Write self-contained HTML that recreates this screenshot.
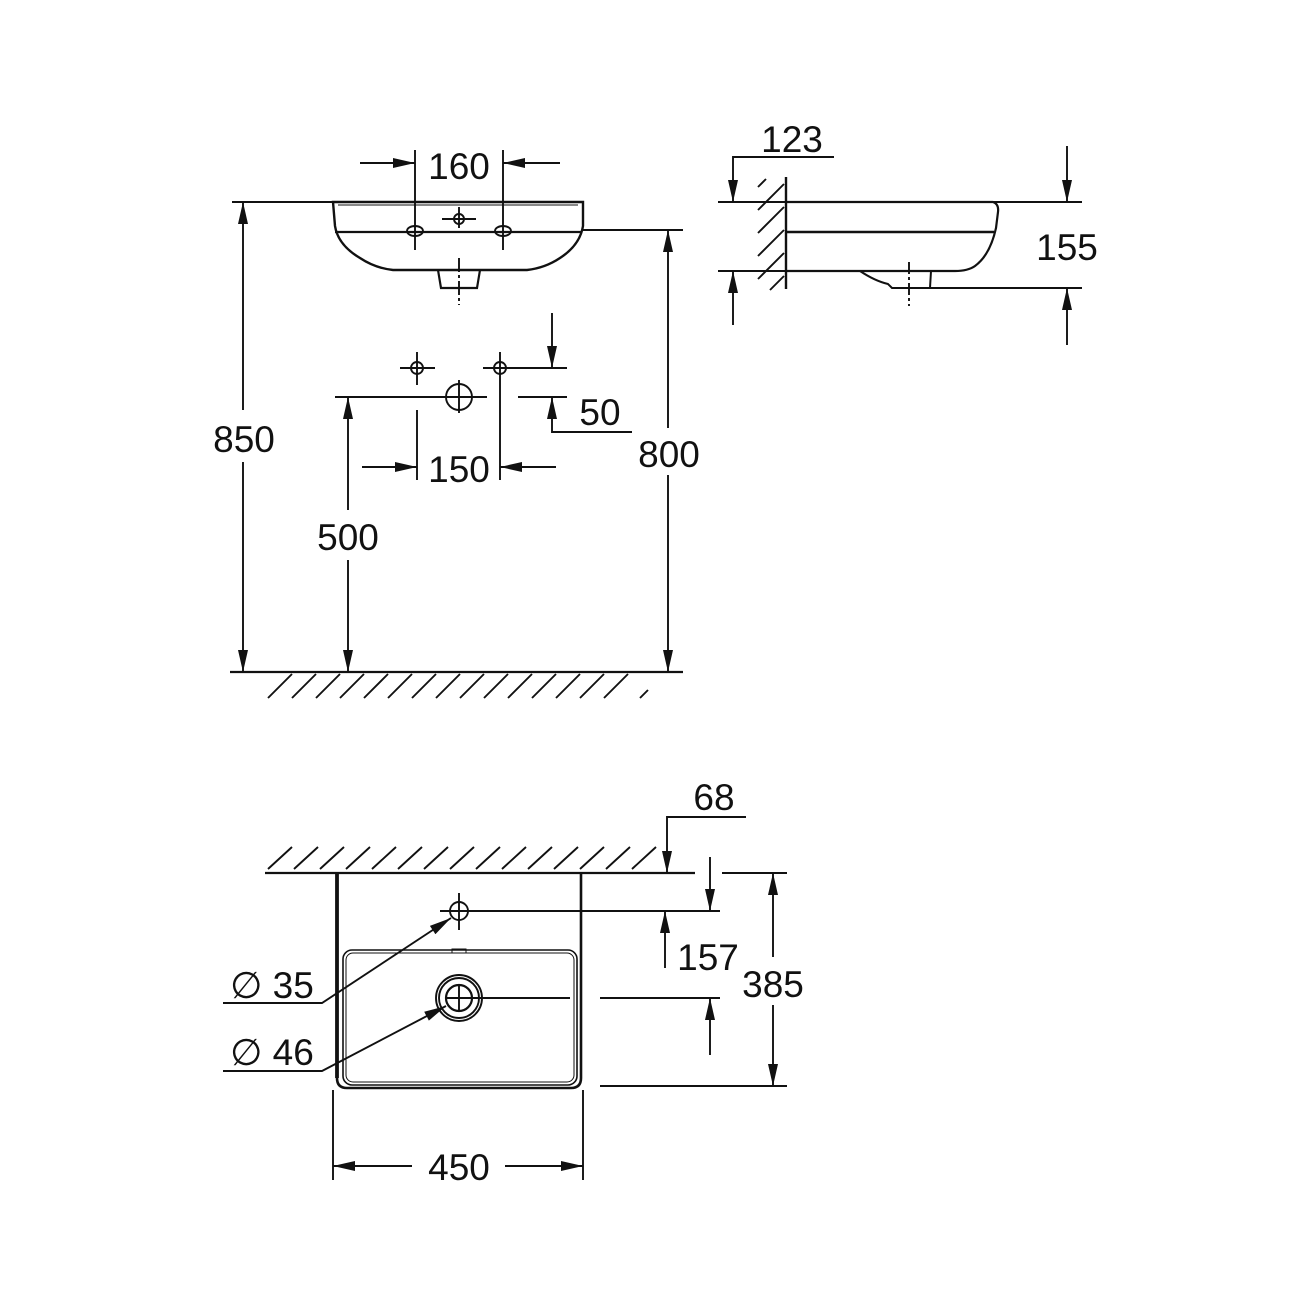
<!DOCTYPE html>
<html><head><meta charset="utf-8"><style>
html,body{margin:0;padding:0;background:#fff}
svg{display:block}
text{font-family:"Liberation Sans",sans-serif;font-size:37px;fill:#111;text-anchor:middle}
</style></head><body>
<svg width="1300" height="1300" viewBox="0 0 1300 1300" xmlns="http://www.w3.org/2000/svg">
<defs>
<marker id="a" viewBox="0 0 22 12" refX="22" refY="6" markerWidth="22" markerHeight="12" markerUnits="userSpaceOnUse" orient="auto">
<path d="M0,1 L22,6 L0,11 Z" fill="#111"/></marker>
</defs>
<g stroke="#111" stroke-width="1.9" fill="none">
<!-- ===== FRONT VIEW ===== -->
<path d="M333,202 L583,202 L583,226 Q580,245 560,258 Q545,268 527,270 L393,270 Q375,268 360,258 Q338,245 335,226 Z" stroke-width="2.4"/>
<line x1="335" y1="232" x2="581" y2="232" stroke-width="2.2"/>
<line x1="338" y1="205" x2="578" y2="205" stroke-width="1"/>
<path d="M438,270 L441,288 L477,288 L480,270" stroke-width="2.2"/>
<line x1="459" y1="258" x2="459" y2="305" stroke-dasharray="14,3,3,3"/>
<ellipse cx="415" cy="231" rx="8" ry="5"/>
<ellipse cx="503" cy="231" rx="8" ry="5"/>
<circle cx="459" cy="219" r="5"/>
<line x1="442" y1="219" x2="476" y2="219"/><line x1="459" y1="207" x2="459" y2="228"/>
<line x1="415" y1="150" x2="415" y2="250"/><line x1="503" y1="150" x2="503" y2="250"/>
<line x1="360" y1="163" x2="415" y2="163" marker-end="url(#a)"/>
<line x1="560" y1="163" x2="503" y2="163" marker-end="url(#a)"/>
<line x1="232" y1="202" x2="333" y2="202"/>
<line x1="243" y1="410" x2="243" y2="202" marker-end="url(#a)"/>
<line x1="243" y1="462" x2="243" y2="672" marker-end="url(#a)"/>
<line x1="583" y1="230" x2="683" y2="230"/>
<line x1="668" y1="428" x2="668" y2="230" marker-end="url(#a)"/>
<line x1="668" y1="475" x2="668" y2="672" marker-end="url(#a)"/>
<line x1="230" y1="672" x2="683" y2="672" stroke-width="2.2"/>
<path d="M292,674 L268,698 M316,674 L292,698 M340,674 L316,698 M364,674 L340,698 M388,674 L364,698 M412,674 L388,698 M436,674 L412,698 M460,674 L436,698 M484,674 L460,698 M508,674 L484,698 M532,674 L508,698 M556,674 L532,698 M580,674 L556,698 M604,674 L580,698 M628,674 L604,698 M648,690 L640,698"/>
<circle cx="417" cy="368" r="6"/><line x1="400" y1="368" x2="435" y2="368"/><line x1="417" y1="352" x2="417" y2="385"/>
<circle cx="500" cy="368" r="6"/><line x1="483" y1="368" x2="567" y2="368"/><line x1="500" y1="352" x2="500" y2="480"/>
<circle cx="459" cy="397" r="13"/><line x1="335" y1="397" x2="487" y2="397"/><line x1="459" y1="380" x2="459" y2="413"/>
<line x1="417" y1="410" x2="417" y2="480"/>
<line x1="362" y1="467" x2="417" y2="467" marker-end="url(#a)"/>
<line x1="556" y1="467" x2="500" y2="467" marker-end="url(#a)"/>
<line x1="518" y1="397" x2="567" y2="397"/>
<line x1="552" y1="313" x2="552" y2="368" marker-end="url(#a)"/>
<path d="M632,432 L552,432 L552,397" marker-end="url(#a)"/>
<line x1="348" y1="510" x2="348" y2="397" marker-end="url(#a)"/>
<line x1="348" y1="560" x2="348" y2="672" marker-end="url(#a)"/>

<!-- ===== SIDE VIEW ===== -->
<line x1="786" y1="177" x2="786" y2="289" stroke-width="2.4"/>
<path d="M758,187 L766,179 M758,210 L784,184 M758,233 L784,207 M758,256 L784,230 M758,279 L784,253 M770,290 L784,276"/>
<path d="M786,202 L993,202 Q999,204 998,212 L996,228 Q990,255 975,266 Q968,271 955,271 L786,271" stroke-width="2.2"/>
<line x1="786" y1="232" x2="994" y2="232" stroke-width="2.6"/>
<path d="M860,271 Q875,281 888,284 L892,288 L930,288 L931,271" stroke-width="2"/>
<line x1="909" y1="262" x2="909" y2="306" stroke-dasharray="12,3,3,3"/>
<line x1="718" y1="202" x2="1082" y2="202"/>
<line x1="718" y1="271" x2="786" y2="271"/>
<line x1="930" y1="288" x2="1082" y2="288"/>
<path d="M834,157 L733,157 L733,202" marker-end="url(#a)"/>
<line x1="733" y1="325" x2="733" y2="271" marker-end="url(#a)"/>
<line x1="1067" y1="146" x2="1067" y2="202" marker-end="url(#a)"/>
<line x1="1067" y1="345" x2="1067" y2="288" marker-end="url(#a)"/>

<!-- ===== TOP VIEW ===== -->
<line x1="265" y1="873" x2="695" y2="873" stroke-width="2.2"/>
<line x1="722" y1="873" x2="787" y2="873"/>
<path d="M268,869 L292,847 M294,869 L318,847 M320,869 L344,847 M346,869 L370,847 M372,869 L396,847 M398,869 L422,847 M424,869 L448,847 M450,869 L474,847 M476,869 L500,847 M502,869 L526,847 M528,869 L552,847 M554,869 L578,847 M580,869 L604,847 M606,869 L630,847 M632,869 L656,847"/>
<path d="M337,873 L337,1078 Q337,1088 347,1088 L571,1088 Q581,1088 581,1078 L581,873" stroke-width="2.6"/>
<line x1="337" y1="873" x2="337" y2="1078" stroke-width="3.8"/>
<rect x="343" y="950" width="234" height="135" rx="9" stroke-width="1.6"/>
<rect x="346" y="953" width="228" height="129" rx="7" stroke-width="1"/>
<rect x="452" y="949" width="14" height="4" stroke-width="1"/>
<circle cx="459" cy="911" r="9"/>
<line x1="440" y1="911" x2="720" y2="911"/><line x1="459" y1="893" x2="459" y2="930"/>
<circle cx="459" cy="998" r="23"/><circle cx="459" cy="998" r="20"/><circle cx="459" cy="998" r="13" stroke-width="2.2"/>
<line x1="446" y1="998" x2="570" y2="998"/><line x1="459" y1="985" x2="459" y2="1012"/>
<line x1="600" y1="998" x2="720" y2="998"/>
<line x1="600" y1="1086" x2="787" y2="1086"/>
<path d="M746,817 L667,817 L667,873" marker-end="url(#a)"/>
<line x1="710" y1="857" x2="710" y2="911" marker-end="url(#a)"/>
<line x1="665" y1="968" x2="665" y2="911" marker-end="url(#a)"/>
<line x1="710" y1="1055" x2="710" y2="998" marker-end="url(#a)"/>
<line x1="773" y1="957" x2="773" y2="873" marker-end="url(#a)"/>
<line x1="773" y1="1005" x2="773" y2="1086" marker-end="url(#a)"/>
<line x1="333" y1="1090" x2="333" y2="1180"/><line x1="583" y1="1090" x2="583" y2="1180"/>
<line x1="412" y1="1166" x2="333" y2="1166" marker-end="url(#a)"/>
<line x1="505" y1="1166" x2="583" y2="1166" marker-end="url(#a)"/>
<path d="M223,1003 L322,1003 L451,918" marker-end="url(#a)"/>
<path d="M223,1071 L322,1071 L446,1006" marker-end="url(#a)"/>
</g>
<text x="459" y="179">160</text>
<text x="244" y="452">850</text>
<text x="669" y="467">800</text>
<text x="600" y="425">50</text>
<text x="459" y="482">150</text>
<text x="348" y="550">500</text>
<text x="792" y="152">123</text>
<text x="1067" y="260">155</text>
<text x="714" y="810">68</text>
<text x="708" y="970">157</text>
<text x="773" y="997">385</text>
<text x="459" y="1180">450</text>
<text x="272" y="998">∅ 35</text>
<text x="272" y="1065">∅ 46</text>
</svg>
</body></html>
